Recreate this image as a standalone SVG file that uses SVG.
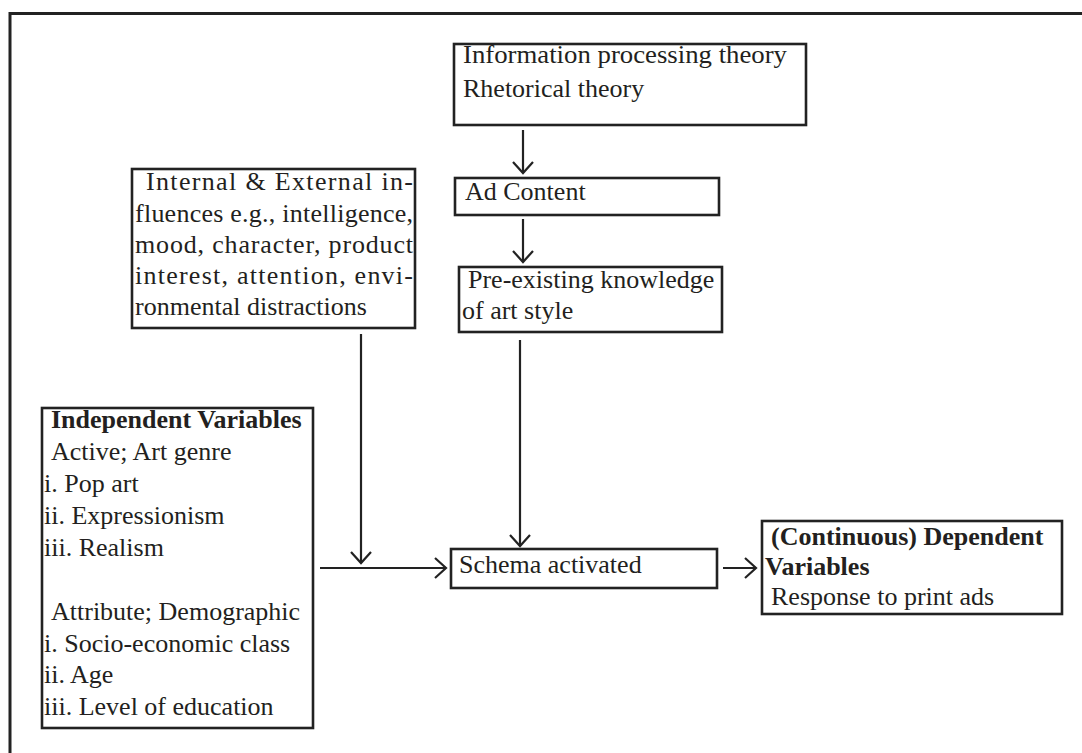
<svg xmlns="http://www.w3.org/2000/svg" width="1082" height="753" viewBox="0 0 1082 753">
<defs>
<marker id="arr" markerUnits="userSpaceOnUse" markerWidth="30" markerHeight="30" viewBox="-15 -15 30 30" refX="0" refY="0" orient="auto">
<path d="M-11,-10 L0,0 L-11,10" fill="none" stroke="#222" stroke-width="2.2"/>
</marker>
</defs>
<style>
.box{fill:#fff;stroke:#222;stroke-width:2.6}
.t{font-family:"Liberation Serif","Times New Roman",serif;font-size:26px;fill:#231f20}
.b{font-weight:bold}
.c{fill:none;stroke:#222;stroke-width:2.2}
</style>
<rect width="1082" height="753" fill="#fff"/>
<path d="M10,753 V13.5 H1082" fill="none" stroke="#222" stroke-width="3"/>
<g id="theory">
<rect class="box" x="454" y="44" width="352" height="81"/>
<text class="t" x="463" y="63" textLength="324" lengthAdjust="spacingAndGlyphs">Information processing theory</text>
<text class="t" x="463" y="97">Rhetorical theory</text>
</g>
<g id="adcontent">
<rect class="box" x="455" y="178" width="264" height="37"/>
<text class="t" x="465" y="200">Ad Content</text>
</g>
<g id="preexisting">
<rect class="box" x="459" y="267" width="263" height="65"/>
<text class="t" x="468" y="288">Pre-existing knowledge</text>
<text class="t" x="462" y="319">of art style</text>
</g>
<g id="influences">
<rect class="box" x="132" y="169" width="283" height="159"/>
<text class="t" x="146" y="190" textLength="267" lengthAdjust="spacing">Internal &amp; External in-</text>
<text class="t" x="135" y="222" textLength="278" lengthAdjust="spacing">fluences e.g., intelligence,</text>
<text class="t" x="135" y="253" textLength="278" lengthAdjust="spacing">mood, character, product</text>
<text class="t" x="135" y="284" textLength="278" lengthAdjust="spacing">interest, attention, envi-</text>
<text class="t" x="135" y="315">ronmental distractions</text>
</g>
<g id="independent">
<rect class="box" x="42" y="408" width="271" height="320"/>
<text class="t b" x="51" y="428">Independent Variables</text>
<text class="t" x="51" y="460">Active; Art genre</text>
<text class="t" x="44" y="492">i. Pop art</text>
<text class="t" x="44" y="524">ii. Expressionism</text>
<text class="t" x="44" y="556">iii. Realism</text>
<text class="t" x="51" y="620">Attribute; Demographic</text>
<text class="t" x="44" y="652">i. Socio-economic class</text>
<text class="t" x="44" y="683">ii. Age</text>
<text class="t" x="44" y="715">iii. Level of education</text>
</g>
<g id="schema">
<rect class="box" x="451" y="549" width="266" height="39"/>
<text class="t" x="459" y="573">Schema activated</text>
</g>
<g id="dependent">
<rect class="box" x="762" y="521" width="300" height="93"/>
<text class="t b" x="771" y="545">(Continuous) Dependent</text>
<text class="t b" x="765" y="575">Variables</text>
<text class="t" x="771" y="605">Response to print ads</text>
</g>
<g id="connectors">
<line class="c" x1="523" y1="130" x2="523" y2="173" marker-end="url(#arr)"/>
<line class="c" x1="523" y1="219" x2="523" y2="262" marker-end="url(#arr)"/>
<line class="c" x1="520" y1="340" x2="520" y2="546" marker-end="url(#arr)"/>
<line class="c" x1="361" y1="334" x2="361" y2="563" marker-end="url(#arr)"/>
<line class="c" x1="320" y1="568" x2="446" y2="568" marker-end="url(#arr)"/>
<line class="c" x1="723" y1="568" x2="756" y2="568" marker-end="url(#arr)"/>
</g>
</svg>
